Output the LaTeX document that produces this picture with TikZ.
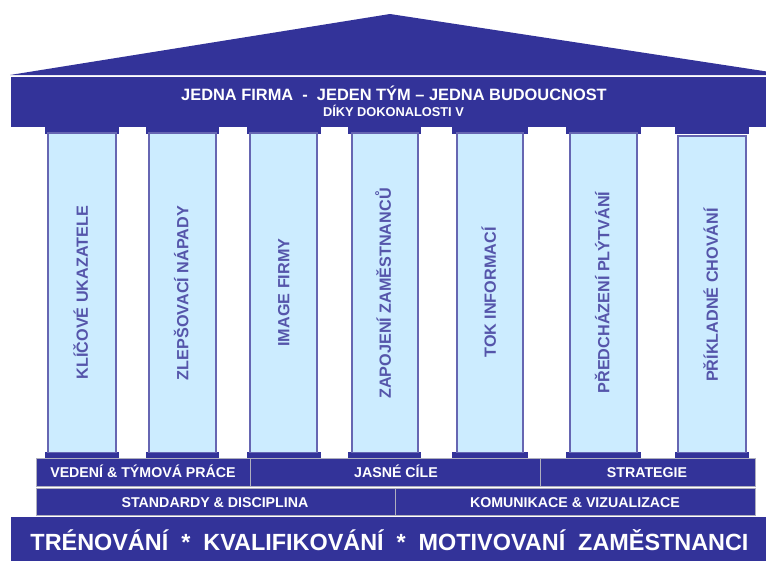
\documentclass[tikz,border=0pt]{standalone}
\usepackage{fontspec}
\setmainfont{Liberation Sans}
\definecolor{navy}{RGB}{51,51,153}
\definecolor{shaft}{RGB}{204,236,255}
\definecolor{shaftline}{RGB}{102,102,178}
\definecolor{coltext}{RGB}{85,85,170}
\definecolor{sepline}{RGB}{175,175,190}
\begin{document}
\begin{tikzpicture}[x=1pt,y=-1pt,
  blk/.style={fill=navy,draw=none},
  band/.style={fill=navy,draw=sepline,line width=0.8pt},
  shaftbox/.style={fill=shaft,draw=shaftline,line width=1.3pt},
  coltxt/.style={rotate=90,anchor=base,inner sep=0pt,text=coltext,font=\fontsize{16.2}{18}\selectfont\bfseries},
  bandtxt/.style={anchor=base,inner sep=0pt,text=white,font=\fontsize{14.2}{16}\selectfont\bfseries},
  titletxt/.style={anchor=base,inner sep=0pt,text=white}]
\useasboundingbox (0,0) rectangle (766,560);
\fill[white] (0,0) rectangle (766,560);
% roof
\fill[navy] (10,75) -- (390,14) -- (770,72) -- (770,75) -- cycle;
% architrave
\fill[navy] (11,77) rectangle (770,127);
\node[titletxt,font=\fontsize{16.4}{18}\selectfont\bfseries] (title) at (394,100.7) {JEDNA FIRMA\ \ -\ \ JEDEN TÝM – JEDNA BUDOUCNOST};
\node[titletxt,font=\fontsize{12.8}{14}\selectfont\bfseries] (subtitle) at (393.5,116.7) {DÍKY DOKONALOSTI V};
% capitals and bases
\foreach \a/\b in {45/119,146/219,247/321,348/421,452/528,566/641,675/749}{
  \fill[navy] (\a,126) rectangle (\b,134);
  \fill[navy] (\a,452) rectangle (\b,459);
}
% shafts
\foreach \a/\b/\t in {48/116/133,149/216/133,250/317/133,352/418/133,457/523/133,570/637/133,678/746/136}{
  \draw[shaftbox] (\a,\t) rectangle (\b,452.5);
}
\node[coltxt] (c1) at (87.8,292.5) {KLÍČOVÉ UKAZATELE};
\node[coltxt] (c2) at (188.3,293) {ZLEPŠOVACÍ NÁPADY};
\node[coltxt] (c3) at (289.3,292.5) {IMAGE FIRMY};
\node[coltxt] (c4) at (390.8,293.5) {ZAPOJENÍ ZAMĚSTNANCŮ};
\node[coltxt] (c5) at (495.8,292.5) {TOK INFORMACÍ};
\node[coltxt] (c6) at (609.3,292.5) {PŘEDCHÁZENÍ PLÝTVÁNÍ};
\node[coltxt] (c7) at (717.8,295) {PŘÍKLADNÉ CHOVÁNÍ};
% band 1
\draw[band] (36,458) rectangle (250,486);
\draw[band] (250,458) rectangle (540,486);
\draw[band] (540,458) rectangle (755,486);
\node[bandtxt] (b1) at (143,477) {VEDENÍ \& TÝMOVÁ PRÁCE};
\node[bandtxt] (b2) at (396,477) {JASNÉ CÍLE};
\node[bandtxt] (b3) at (647,477) {STRATEGIE};
% band 2
\draw[band] (36,488.5) rectangle (395,515);
\draw[band] (395,488.5) rectangle (755,515);
\node[bandtxt] (b4) at (215,507) {STANDARDY \& DISCIPLINA};
\node[bandtxt] (b5) at (575,507) {KOMUNIKACE \& VIZUALIZACE};
% band 3
\fill[navy] (11,517) rectangle (770,562);
\node[titletxt,font=\fontsize{23.4}{26}\selectfont\bfseries] (foot) at (389.5,550.5) {TRÉNOVÁNÍ\ \ *\ \ KVALIFIKOVÁNÍ\ \ *\ \ MOTIVOVANÍ\ \ ZAMĚSTNANCI};
\end{tikzpicture}
\end{document}
